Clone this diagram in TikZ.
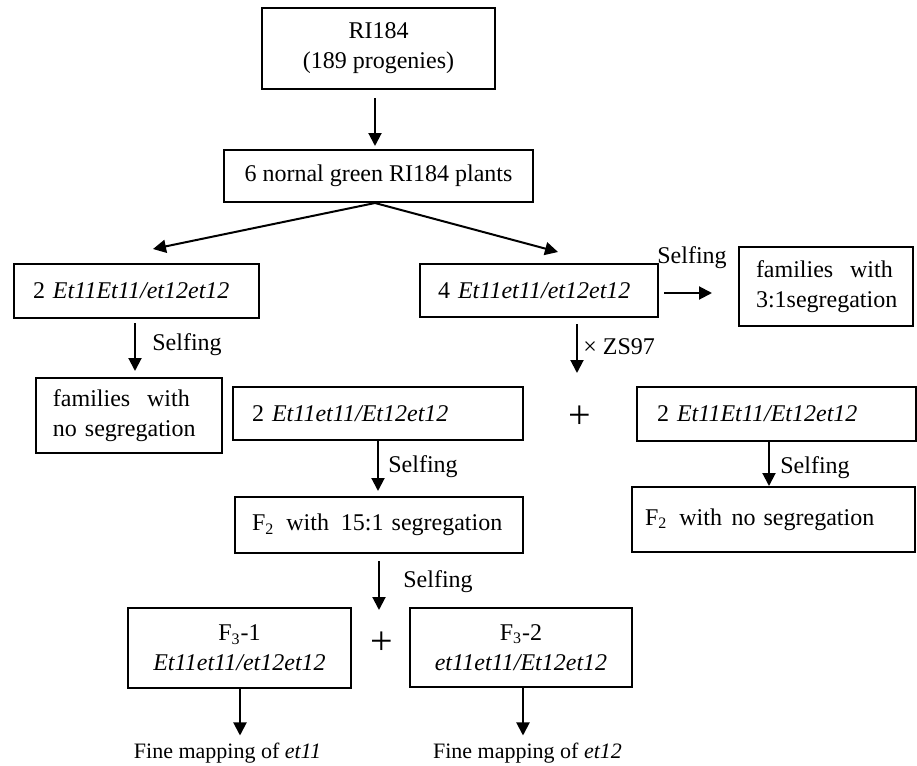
\documentclass[tikz,border=0pt]{standalone}
\usepackage{fontspec}
\setmainfont{Liberation Serif}
\usetikzlibrary{arrows.meta,calc}
\begin{document}
\begin{tikzpicture}[x=0.5pt,y=-0.5pt,
  box/.style={draw, line width=1pt, inner sep=0pt, font=\fontsize{12}{15}\selectfont},
  arr/.style={line width=1pt, -{Triangle[length=6.5pt,width=6.5pt]}},
  lbl/.style={font=\fontsize{12}{15}\selectfont, inner sep=0pt},
  pl/.style={font=\fontsize{20}{20}\selectfont, inner sep=0pt}]
\useasboundingbox (0,0) rectangle (917,766);

% boxes
\node[box, minimum width=116.5pt, minimum height=40.5pt, align=center] (ri) at (378.5,48.5) {RI184\\(189 progenies)};
\node[box, minimum width=154.5pt, minimum height=26pt] (pl6) at (378.5,176) {6 nornal green RI184 plants};
\node[box, text width=103.5pt, inner xsep=9.5pt, align=left, minimum height=27pt] (A) at (136.5,291) {2 \textit{Et11Et11/et12et12}};
\node[box, text width=101pt, inner xsep=9pt, align=left, minimum height=26.5pt] (B) at (539,290.5) {4 \textit{Et11et11/et12et12}};
\node[box, text width=70pt, inner xsep=8.5pt, align=left, minimum height=39.5pt] (f31) at (826,286.5) {families\hspace{0.7em}with\\3:1segregation};
\node[box, text width=76pt, inner xsep=8.5pt, align=left, minimum height=37.5pt] (fno) at (129,415.5) {families\hspace{0.7em}with\\no segregation};
\node[box, text width=126pt, inner xsep=9.5pt, align=left, minimum height=26.5pt] (C) at (378,413.5) {2 \textit{Et11et11/Et12et12}};
\node[box, text width=119.5pt, inner xsep=10pt, align=left, minimum height=27pt] (D) at (776.5,414) {2 \textit{Et11Et11/Et12et12}};
\node[box, text width=127pt, inner xsep=8.5pt, align=left, minimum height=28pt] (E) at (379,525) {F\textsubscript{2}\hspace{0.5em}with\hspace{0.5em}15:1 segregation};
\node[box, text width=128.5pt, inner xsep=6.5pt, align=left, minimum height=32.5pt] (F) at (773.5,519.5) {F\textsubscript{2}\hspace{0.5em}with\hspace{0.4em}no segregation};
\node[box, minimum width=111.5pt, minimum height=40pt, align=center] (G) at (239.5,648) {F\textsubscript{3}-1\\\textit{Et11et11/et12et12}};
\node[box, minimum width=111pt, minimum height=39.5pt, align=center] (H) at (521,647.5) {F\textsubscript{3}-2\\\textit{et11et11/Et12et12}};

% free texts
\node[lbl, font=\fontsize{11}{13}\selectfont] (fm1) at (227.5,753) {Fine mapping of \textit{et11}};
\node[lbl, font=\fontsize{11}{13}\selectfont] (fm2) at (527.5,753) {Fine mapping of \textit{et12}};
\node[pl] (pa) at (580,417) {+};
\node[pl] (pb) at (382,643) {+};
\node[lbl, anchor=west] (s1) at (657,258) {Selfing};
\node[lbl, anchor=west] (s2) at (152,345) {Selfing};
\node[lbl, anchor=west] (s3) at (388,467) {Selfing};
\node[lbl, anchor=west] (s4) at (780,468) {Selfing};
\node[lbl, anchor=west] (s5) at (403,582) {Selfing};
\node[lbl, anchor=west] (zsl) at (583,347) {× ZS97};

\coordinate (zs) at (577,373);
\coordinate (sp) at (379,610);

% connectors
\draw[arr, shorten <=4pt, shorten >=1.5pt] ([xshift=-1.75pt]ri.south) -- ([xshift=-1.75pt]pl6.north);
\draw[arr] ([xshift=-1.75pt]pl6.south) -- ($(A.north)+(8.25pt,7pt)$);
\draw[arr] ([xshift=-1.75pt]pl6.south) -- ($(B.north)+(9.5pt,5.5pt)$);
\draw[arr, shorten <=2.5pt, shorten >=13pt] ([yshift=-1.25pt]B.east) -- ([yshift=-1.25pt]B.east -| f31.west);
\draw[arr, shorten <=2pt, shorten >=3pt] ([xshift=-0.75pt]A.south) -- ([xshift=-0.75pt]A.south |- fno.north);
\draw[arr, shorten <=3pt] (B.south -| zs) -- (zs);
\draw[arr, shorten >=2.5pt] (C.south) -- (C.south |- E.north);
\draw[arr] ([xshift=-3.75pt]D.south) -- ([xshift=-3.75pt]D.south |- F.north);
\draw[arr, shorten <=3.5pt] (E.south) -- (sp);
\draw[arr, shorten >=3.5pt] ([xshift=0.25pt]G.south) -- ([xshift=0.25pt]G.south |- fm1.north);
\draw[arr, shorten >=3.5pt] ([xshift=1pt]H.south) -- ([xshift=1pt]H.south |- fm2.north);
\end{tikzpicture}
\end{document}
